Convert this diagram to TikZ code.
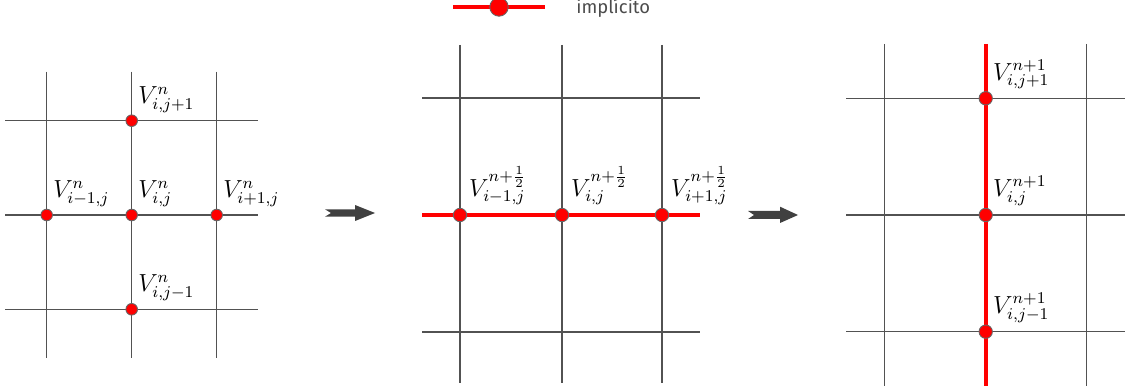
\documentclass[tikz,border=0pt]{standalone}
\usepackage{fontspec}
\newfontfamily\legendfont{Fira Sans}
\begin{document}
\begin{tikzpicture}[x=0.02cm,y=-0.02cm,
  gridline/.style={draw=black!68,line width=0.75pt},
  redline/.style={draw=red,line width=2.3pt},
  dotA/.style={circle,fill=red,draw=black!60,line width=0.5pt,minimum size=6.6pt,inner sep=0},
  dotB/.style={circle,fill=red,draw=black!60,line width=0.5pt,minimum size=7.6pt,inner sep=0},
  dotL/.style={circle,fill=red,draw=black!60,line width=0.5pt,minimum size=10.5pt,inner sep=0},
  lab/.style={anchor=south west,inner sep=0,scale=1.17,transform shape,font=\fontsize{11.5}{13}\selectfont},
  bigarrow/.style={fill=black!75,draw=none}]
\useasboundingbox (0,0) rectangle (1131,391);
% ---------- legend ----------
\coordinate (l1) at (453,7);
\coordinate (l2) at (545,7);
\draw[redline] (l1) -- (l2);
\node[dotL] (ld) at (499,7) {};
\node[anchor=west,inner sep=0,text=black!70,font=\legendfont\fontsize{10.5}{12}\selectfont] (lt) at (576,8.5) {implícito};
% ---------- panel 1 ----------
\foreach \x/\n in {46.7/a,131.7/b,216.7/c}{
  \coordinate (p1t\n) at (\x,71.7); \coordinate (p1b\n) at (\x,358);
  \draw[gridline] (p1t\n) -- (p1b\n);}
\foreach \y/\n in {120.7/a,215/b,309.3/c}{
  \coordinate (p1l\n) at (5,\y); \coordinate (p1r\n) at (258,\y);
  \draw[gridline] (p1l\n) -- (p1r\n);}
\node[dotA] (A1) at (131.7,120.7) {};
\node[dotA] (A2) at (46.7,215) {};
\node[dotA] (A3) at (131.7,215) {};
\node[dotA] (A4) at (216.7,215) {};
\node[dotA] (A5) at (131.7,309.3) {};
\node[lab] at ([xshift=3.5,yshift=4.5]A1.center) {$V^{n}_{i,j+1}$};
\node[lab] at ([xshift=3.5,yshift=4.5]A2.center) {$V^{n}_{i-1,j}$};
\node[lab] at ([xshift=3.5,yshift=4.5]A3.center) {$V^{n}_{i,j}$};
\node[lab] at ([xshift=3.5,yshift=4.5]A4.center) {$V^{n}_{i+1,j}$};
\node[lab] at ([xshift=3.5,yshift=4.5]A5.center) {$V^{n}_{i,j-1}$};
% ---------- arrow 1 ----------
\fill[bigarrow] (325,209.3) -- (355,209.3) -- (355,205) -- (375,213) -- (355,221) -- (355,216.7) -- (325,216.7) -- (331,213) -- cycle;
% ---------- panel 2 ----------
\foreach \x/\n in {460/a,562/b,662/c}{
  \coordinate (p2t\n) at (\x,45); \coordinate (p2b\n) at (\x,383);
  \draw[gridline] (p2t\n) -- (p2b\n);}
\foreach \y/\n in {98/a,332/c}{
  \coordinate (p2l\n) at (422,\y); \coordinate (p2r\n) at (700,\y);
  \draw[gridline] (p2l\n) -- (p2r\n);}
\coordinate (p2lb) at (422,215); \coordinate (p2rb) at (700,215);
\draw[redline] (p2lb) -- (p2rb);
\node[dotB] (B1) at (460,215) {};
\node[dotB] (B2) at (562,215) {};
\node[dotB] (B3) at (662,215) {};
\node[lab] at ([xshift=5,yshift=5.5]B1.center) {$V^{n+\frac{1}{2}}_{i-1,j}$};
\node[lab] at ([xshift=5,yshift=5.5]B2.center) {$V^{n+\frac{1}{2}}_{i,j}$};
\node[lab] at ([xshift=5,yshift=5.5]B3.center) {$V^{n+\frac{1}{2}}_{i+1,j}$};
% ---------- arrow 2 ----------
\fill[bigarrow] (748,211) -- (780,211) -- (780,206.7) -- (798,215) -- (780,223) -- (780,219) -- (748,219) -- (754,215) -- cycle;
% ---------- panel 3 ----------
\foreach \x/\n in {884.3/a,1086.7/c}{
  \coordinate (p3t\n) at (\x,44); \coordinate (p3b\n) at (\x,386);
  \draw[gridline] (p3t\n) -- (p3b\n);}
\foreach \y/\n in {98.3/a,215/b,331.7/c}{
  \coordinate (p3l\n) at (846,\y); \coordinate (p3r\n) at (1125,\y);
  \draw[gridline] (p3l\n) -- (p3r\n);}
\coordinate (p3tb) at (985.7,44); \coordinate (p3bb) at (985.7,386);
\draw[redline] (p3tb) -- (p3bb);
\node[dotB] (C1) at (985.7,98.3) {};
\node[dotB] (C2) at (985.7,215) {};
\node[dotB] (C3) at (985.7,331.7) {};
\node[lab] at ([xshift=4,yshift=5]C1.center) {$V^{n+1}_{i,j+1}$};
\node[lab] at ([xshift=4,yshift=5]C2.center) {$V^{n+1}_{i,j}$};
\node[lab] at ([xshift=4,yshift=5]C3.center) {$V^{n+1}_{i,j-1}$};
\end{tikzpicture}
\end{document}
